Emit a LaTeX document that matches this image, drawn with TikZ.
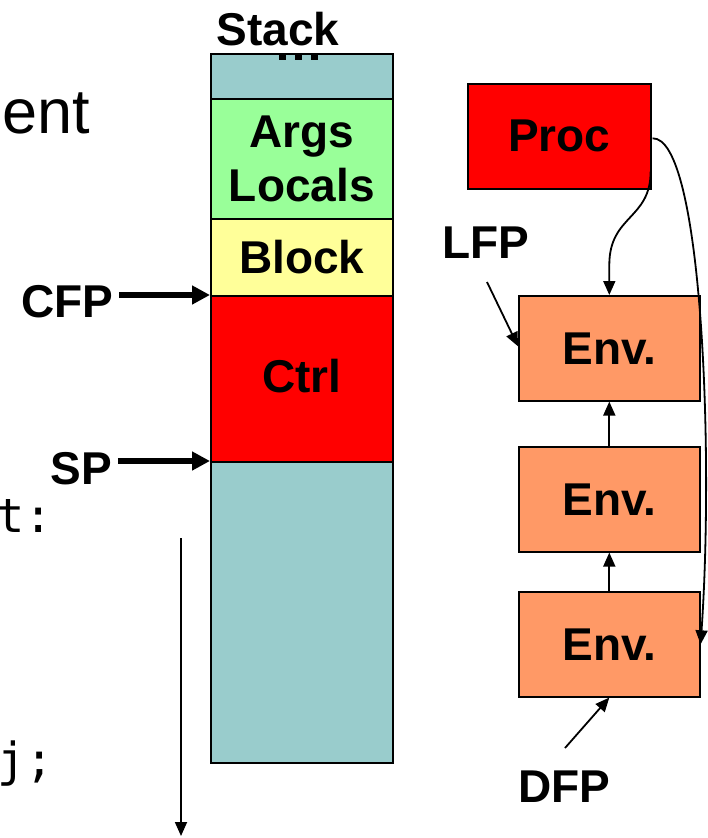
\documentclass[tikz,border=0pt]{standalone}
\usepackage{fontspec}
\setmainfont{Liberation Sans}
\newfontfamily\codefont{DejaVu Sans Mono}
\usetikzlibrary{arrows.meta,calc}
\definecolor{stackteal}{HTML}{99CCCC}
\definecolor{argsgreen}{HTML}{99FF99}
\definecolor{blockyellow}{HTML}{FFFF99}
\definecolor{ctrlred}{HTML}{FF0000}
\definecolor{envorange}{HTML}{FF9966}
\tikzset{
  x=1pt, y=-1pt,
  lbl/.style={font=\fontsize{46}{57}\selectfont\bfseries, inner sep=0pt, align=center},
  code/.style={anchor=base west, inner sep=0pt, font=\fontsize{47}{56}\selectfont\codefont},
  cell/.style={draw=black, line width=1.6pt, minimum width=182pt, anchor=north west,
    inner sep=0pt, font=\fontsize{46}{57}\selectfont\bfseries, align=center},
  envbox/.style={draw=black, line width=1.6pt, fill=envorange, minimum width=181pt,
    minimum height=105pt, anchor=north west, inner sep=0pt,
    font=\fontsize{46}{57}\selectfont\bfseries},
  ptr/.style={line width=6pt, -{Triangle[length=18pt,width=18pt]}},
  link/.style={line width=1.8pt, -{Triangle[length=14pt,width=12pt]}},
}
\begin{document}
\begin{tikzpicture}
\useasboundingbox (0,0) rectangle (707,838);

% fragments of surrounding text
\node[anchor=base east, inner sep=0pt, font=\fontsize{63}{70}\selectfont] (ent) at (90,133) {ent};
\node[code] (tcol) at (-4,532) {t:};
\node[code] (jsemi) at (-3,776) {j;};

% the stack column
\node[cell, fill=stackteal, minimum height=45pt] (top) at (210,53) {};
\node[cell, fill=argsgreen, minimum height=120pt] (args) at (210,98) {Args\\[-3pt]Locals};
\node[cell, fill=blockyellow, minimum height=77pt] (block) at (210,218) {Block};
\node[cell, fill=ctrlred, minimum height=166pt] (ctrl) at (210,295) {\raisebox{6pt}{Ctrl}};
\node[cell, fill=stackteal, minimum height=301pt] (rest) at (210,461) {};
\fill (279,54) rectangle (286,60);
\fill (295,54) rectangle (302,60);
\fill (311,54) rectangle (318,60);
\node[lbl, anchor=base] (stack) at (278,45) {Stack};

% frame pointers into the stack
\node[lbl] (cfp) at (67,302) {CFP};
\node[lbl] (sp) at (81,469) {SP};
\draw[ptr] ($(cfp.east |- ctrl.north west)+(6,0)$) -- (ctrl.north west);
\draw[ptr] ($(sp.east |- rest.north west)+(6,0)$) -- (rest.north west);

% growth direction
\coordinate (gtop) at (181,538);
\coordinate (gbot) at (181,836);
\draw[link] (gtop) -- (gbot);

% procedure and environment chain
\node[draw=black, line width=1.6pt, fill=ctrlred, minimum width=183pt, minimum height=105pt,
  anchor=north west, inner sep=0pt, font=\fontsize{46}{57}\selectfont\bfseries] (proc) at (467,83) {Proc};
\node[envbox] (env1) at (518,295) {Env.};
\node[envbox] (env2) at (518,446) {Env.};
\node[envbox] (env3) at (518,591) {Env.};

\draw[link] (env2.north) -- (env1.south);
\draw[link] (env3.north) -- (env2.south);

\draw[link] ($(proc.south east)+(-1,-18)$) .. controls ($(proc.south east)+(-1,30)$) and ($(env1.north)+(0,-80)$) .. ($(env1.north)+(0,-30)$) -- (env1.north);
\draw[link] ($(proc.east)+(1,2)$) .. controls (702,137) and (714,450) .. (env3.east);

\node[lbl] (lfp) at (486,243) {LFP};
\coordinate (lfptail) at (487,282);
\draw[link] (lfptail) -- ($(env1.west)+(0,-2)$);

\node[lbl] (dfp) at (564,787) {DFP};
\coordinate (dfptail) at (565,748);
\draw[link] (dfptail) -- (env3.south);
\end{tikzpicture}
\end{document}
